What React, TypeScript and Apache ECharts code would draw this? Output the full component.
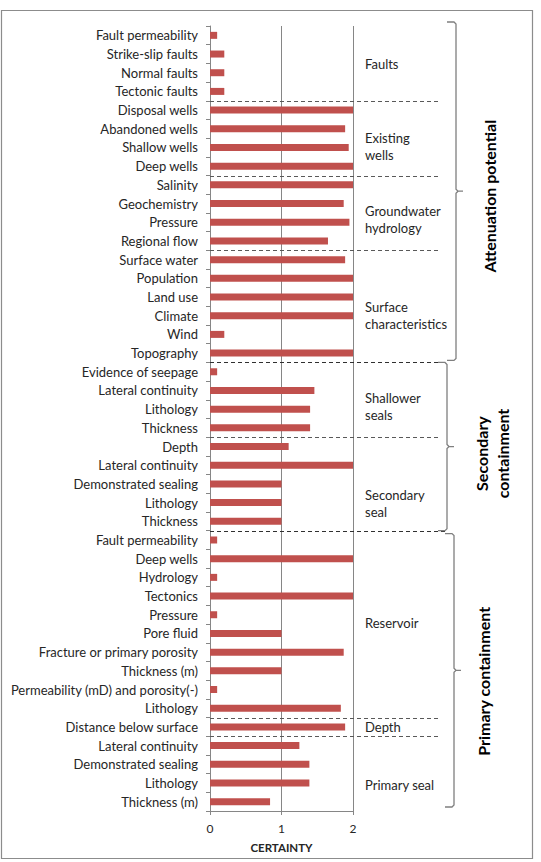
import React, { useEffect, useRef } from "react";
import * as echarts from "echarts";

// ---- data ----
const categories = [
  "Fault permeability", "Strike-slip faults", "Normal faults", "Tectonic faults",
  "Disposal wells", "Abandoned wells", "Shallow wells", "Deep wells",
  "Salinity", "Geochemistry", "Pressure", "Regional flow",
  "Surface water", "Population", "Land use", "Climate", "Wind", "Topography",
  "Evidence of seepage", "Lateral continuity", "Lithology", "Thickness",
  "Depth", "Lateral continuity", "Demonstrated sealing", "Lithology", "Thickness",
  "Fault permeability", "Deep wells", "Hydrology", "Tectonics", "Pressure", "Pore fluid",
  "Fracture or primary porosity", "Thickness (m)", "Permeability (mD) and porosity(-)", "Lithology",
  "Distance below surface",
  "Lateral continuity", "Demonstrated sealing", "Lithology", "Thickness (m)",
];
const certainty = [
  0.1, 0.2, 0.2, 0.2,
  2.0, 1.89, 1.94, 2.0,
  2.0, 1.87, 1.95, 1.65,
  1.89, 2.0, 2.0, 2.0, 0.2, 2.0,
  0.1, 1.46, 1.4, 1.4,
  1.1, 2.0, 1.0, 1.0, 1.0,
  0.1, 2.0, 0.1, 2.0, 0.1, 1.0, 1.87, 1.0, 0.1, 1.83,
  1.89,
  1.25, 1.39, 1.39, 0.84,
];
const groupNames = [
  "Faults", "Existing\nwells", "Groundwater\nhydrology", "Surface\ncharacteristics",
  "Shallower\nseals", "Secondary\nseal", "Reservoir", "Depth", "Primary seal",
];
const groupSizes = [4, 4, 4, 6, 4, 5, 10, 1, 4];
const sectionNames = ["Attenuation potential", "Secondary\ncontainment", "Primary containment"];
const sectionGroupCounts = [4, 2, 3];
const xTicks = [0, 1, 2];

// ---- layout (not data) ----
const groupLabelDy = [1, 8, 7, 9, 7, 20, -1, 0, 11];
const sectionLabelX = [489, 492, 483];
const sectionLabelDy = [5, 7, 11];
const braceX = [456, 447, 454];

export default function App() {
  const ref = useRef<HTMLDivElement>(null);
  useEffect(() => {
    if (!ref.current) return;
    const chart = echarts.init(ref.current, undefined, { renderer: "svg" });
    const font = "Lato";
    chart.setOption({
      animation: false,
      backgroundColor: "#ffffff",
      grid: { left: 210, top: 26, width: 143, height: 785, containLabel: false },
      xAxis: {
        type: "value",
        min: xTicks[0],
        max: xTicks[xTicks.length - 1],
        interval: 1,
        axisLine: { show: true, lineStyle: { color: "#868686", width: 1 } },
        axisTick: { show: true, length: 4, lineStyle: { color: "#868686" } },
        axisLabel: { fontSize: 12, color: "#262626", margin: 11, fontFamily: font },
        splitLine: { show: true, lineStyle: { color: "#868686", width: 1 } },
        name: "CERTAINTY",
        nameLocation: "middle",
        nameGap: 30,
        nameTextStyle: { fontSize: 11.5, fontWeight: "bold", color: "#262626", fontFamily: font },
      },
      yAxis: {
        type: "category",
        inverse: true,
        data: categories,
        axisLine: { show: true, lineStyle: { color: "#868686", width: 1 } },
        axisTick: { show: true, length: 4, lineStyle: { color: "#868686" } },
        axisLabel: { fontSize: 13, color: "#262626", margin: 12, interval: 0, fontFamily: font },
        splitLine: { show: false },
      },
      series: [
        {
          type: "bar",
          data: certainty,
          barWidth: 7,
          itemStyle: { color: "#C0504D" },
        },
      ],
    });

    const c0 = chart.convertToPixel({ yAxisIndex: 0 }, 0) as number;
    const c1 = chart.convertToPixel({ yAxisIndex: 0 }, 1) as number;
    const band = c1 - c0;
    const boundary = (k: number) => c0 - band / 2 + k * band;
    const x0 = chart.convertToPixel({ xAxisIndex: 0 }, 0) as number;
    const x2 = chart.convertToPixel({ xAxisIndex: 0 }, 2) as number;

    const graphics: any[] = [];
    graphics.push({
      type: "rect",
      shape: { x: 1.5, y: 10.5, width: 531, height: 848 },
      style: { fill: "none", stroke: "#8c8c8c", lineWidth: 1.2 },
      z: 0,
    });

    // group separators and labels
    let cum = 0;
    const groupStart: number[] = [];
    groupSizes.forEach((n, gi) => {
      groupStart.push(cum);
      const top = boundary(cum);
      const bot = boundary(cum + n);
      graphics.push({
        type: "text",
        x: x2 + 12,
        y: (top + bot) / 2 + groupLabelDy[gi],
        style: {
          text: groupNames[gi],
          fontSize: 13,
          fontFamily: font,
          fill: "#262626",
          align: "left",
          verticalAlign: "middle",
          lineHeight: 17,
        },
      });
      cum += n;
    });
    groupStart.push(cum);

    // section boundaries (group index)
    const sectionBoundGroups: number[] = [];
    let sg = 0;
    sectionGroupCounts.forEach((n) => {
      sg += n;
      sectionBoundGroups.push(sg);
    });

    for (let gi = 1; gi < groupSizes.length; gi++) {
      const y = Math.round(boundary(groupStart[gi])) + 0.5;
      const isSection = sectionBoundGroups.includes(gi);
      graphics.push({
        type: "line",
        shape: { x1: x0, y1: y, x2: isSection ? 446 : 440, y2: y },
        style: { stroke: isSection ? "#303030" : "#595959", lineWidth: 1, lineDash: [4, 3] },
        z: 10,
      });
    }

    // braces
    const plotTop = boundary(0);
    const plotBot = boundary(categories.length);
    let gStart = 0;
    sectionGroupCounts.forEach((n, si) => {
      const firstCat = groupStart[gStart];
      const lastCat = groupStart[gStart + n];
      let yTop = boundary(firstCat);
      let yBot = boundary(lastCat);
      if (si === 0) { yTop = plotTop - 4; yBot = yBot - 2; }
      if (si === 2) { yTop = yTop + 3; yBot = plotBot - 4; }
      const x = braceX[si];
      const xl = x - 9;
      const mid = (yTop + yBot) / 2;
      graphics.push({
        type: "polyline",
        shape: {
          points: [
            [xl, yTop], [x - 2, yTop], [x, yTop + 2],
            [x, mid - 2], [x + 2, mid], [x + 7, mid], [x + 2, mid], [x, mid + 2],
            [x, yBot - 2], [x - 2, yBot], [xl, yBot],
          ],
        },
        style: { stroke: "#7f7f7f", lineWidth: 1.3, fill: "none" },
        z: 10,
      });
      graphics.push({
        type: "text",
        x: sectionLabelX[si],
        y: mid + sectionLabelDy[si],
        rotation: Math.PI / 2,
        style: {
          text: sectionNames[si],
          fontSize: 16,
          fontWeight: "bold",
          fontFamily: font,
          fill: "#000000",
          align: "center",
          verticalAlign: "middle",
          lineHeight: 21,
        },
      });
      gStart += n;
    });

    chart.setOption({ graphic: graphics });
    return () => chart.dispose();
  }, []);
  return (
    <div
      ref={ref}
      style={{ position: "fixed", left: 0, top: 0, width: 541, height: 862, background: "#fff" }}
    />
  );
}
